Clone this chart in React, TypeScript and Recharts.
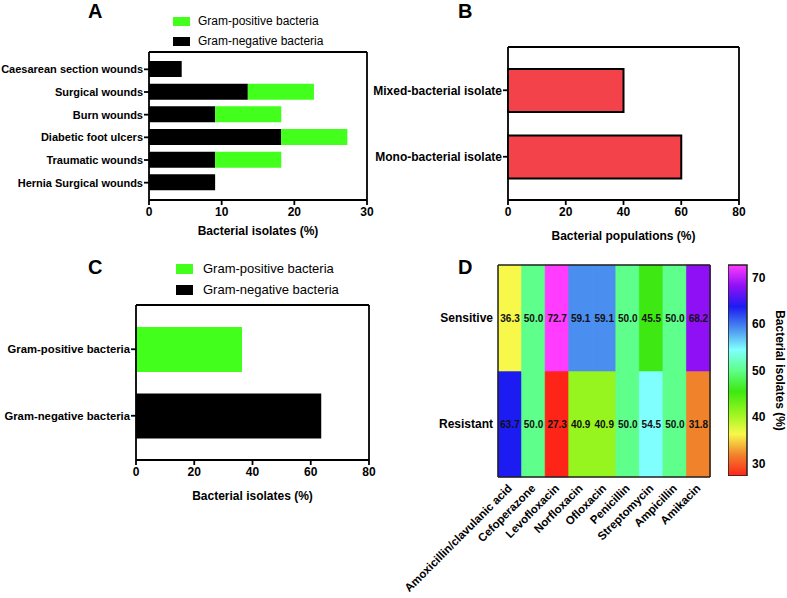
import React from 'react';
import { BarChart, Bar, XAxis, YAxis, Cell, LabelList, Legend, Label } from 'recharts';

// Panel A: wound types (top to bottom)
const WOUND_TYPES = [
  'Caesarean section wounds',
  'Surgical wounds',
  'Burn wounds',
  'Diabetic foot ulcers',
  'Traumatic wounds',
  'Hernia Surgical wounds',
];
const WOUND_NEGATIVE = [4.5, 13.6, 9.1, 18.2, 9.1, 9.1];
const WOUND_POSITIVE = [0, 9.1, 9.1, 9.1, 9.1, 0];
const A_TICKS = [0, 10, 20, 30];

// Panel B
const ISOLATE_TYPES = ['Mixed-bacterial isolate', 'Mono-bacterial isolate'];
const ISOLATE_SHARE = [40, 60];

// Panel C
const GRAM_TYPES = ['Gram-positive bacteria', 'Gram-negative bacteria'];
const GRAM_SHARE = [36.4, 63.6];
const BC_TICKS = [0, 20, 40, 60, 80];

// Panel D heatmap
const ANTIBIOTICS = [
  'Amoxicillin/clavulanic acid',
  'Cefoperazone',
  'Levofloxacin',
  'Norfloxacin',
  'Ofloxacin',
  'Penicillin',
  'Streptomycin',
  'Ampicillin',
  'Amikacin',
];
const SENSITIVE = [36.3, 50.0, 72.7, 59.1, 59.1, 50.0, 45.5, 50.0, 68.2];
const RESISTANT = [63.7, 50.0, 27.3, 40.9, 40.9, 50.0, 54.5, 50.0, 31.8];
const ROW_LABELS = ['Sensitive', 'Resistant'];
const CB_TICKS = [30, 40, 50, 60, 70];

const GREEN = '#42ff1c';
const RED = '#f4424a';

// colour scale used by the heatmap and its colour bar
const COLOR_STOPS: [number, string][] = [
  [27.3, '#ff2418'],
  [31.8, '#f0822c'],
  [36.3, '#f8f84a'],
  [40.9, '#96f51e'],
  [45.5, '#3ee812'],
  [50.0, '#5eff8a'],
  [54.5, '#80ffff'],
  [59.1, '#4a8ef0'],
  [63.7, '#1c1cf2'],
  [68.2, '#9010f5'],
  [72.7, '#ff3cff'],
];

const hexToRgb = (h: string) => [1, 3, 5].map((i) => parseInt(h.slice(i, i + 2), 16));

function colorFor(v: number) {
  const stops = COLOR_STOPS;
  if (v <= stops[0][0]) return stops[0][1];
  for (let i = 1; i < stops.length; i++) {
    if (v <= stops[i][0]) {
      const [v0, c0] = stops[i - 1];
      const [v1, c1] = stops[i];
      const t = (v - v0) / (v1 - v0);
      const a = hexToRgb(c0);
      const b = hexToRgb(c1);
      const rgb = a.map((x, k) => Math.round(x + (b[k] - x) * t));
      return `rgb(${rgb.join(',')})`;
    }
  }
  return stops[stops.length - 1][1];
}

const woundData = WOUND_TYPES.map((name, i) => ({
  name,
  negative: WOUND_NEGATIVE[i],
  positive: WOUND_POSITIVE[i],
}));
const isolateData = ISOLATE_TYPES.map((name, i) => ({ name, value: ISOLATE_SHARE[i] }));
const gramData = GRAM_TYPES.map((name, i) => ({
  name,
  positive: i === 0 ? GRAM_SHARE[i] : undefined,
  negative: i === 1 ? GRAM_SHARE[i] : undefined,
}));
const heatData = ANTIBIOTICS.map((name, i) => ({
  name,
  sensitive: SENSITIVE[i],
  resistant: RESISTANT[i],
}));
const allValues = [...SENSITIVE, ...RESISTANT];
const CB_MIN = Math.min(...allValues);
const CB_MAX = Math.max(...allValues);
const scaleData = [{ name: 'scale', range: [CB_MIN, CB_MAX] }];

const AX = { stroke: '#000', strokeWidth: 1.8 };
const numTick = { fill: '#000', fontSize: 12, fontWeight: 'bold' };
const titleStyle = { fill: '#000', fontSize: 12, fontWeight: 'bold' };

// single-line category label (no wrapping)
const CatTick = (props: any) => {
  const { x, y, payload, fontSize, tickFormatter } = props;
  const text = tickFormatter ? tickFormatter(payload.value) : payload.value;
  return (
    <text x={x} y={y} dy="0.36em" textAnchor="end" fontSize={fontSize} fontWeight="bold" fill="#000">
      {text}
    </text>
  );
};

const SwatchLegend = ({ payload, fontSize, rowH, swH, gap }: any) => {
  const items = [...(payload || [])].reverse();
  return (
    <div style={{ fontSize, color: '#000' }}>
      {items.map((p: any) => (
        <div key={p.value} style={{ display: 'flex', alignItems: 'center', height: rowH }}>
          <span style={{ display: 'inline-block', width: 17, height: swH, background: p.color, marginRight: gap }} />
          {p.value}
        </div>
      ))}
    </div>
  );
};

const AngledTick = (props: any) => {
  const { x, y, payload } = props;
  const ax = x + 3;
  const ay = y + 12;
  return (
    <text x={ax} y={ay} transform={`rotate(-45, ${ax}, ${ay})`} textAnchor="end" fontSize={11.5} fontWeight="bold" fill="#000">
      {payload.value}
    </text>
  );
};

const letter = (ch: string, left: number, top: number) => (
  <div style={{ position: 'absolute', left, top, fontSize: 20, fontWeight: 'bold', lineHeight: 'normal' }}>{ch}</div>
);

export default function App() {
  return (
    <div
      style={{
        position: 'absolute',
        left: 0,
        top: 0,
        width: 787,
        height: 598,
        overflow: 'hidden',
        background: '#fff',
        fontFamily: '"Liberation Sans", Arial, sans-serif',
      }}
    >
      {letter('A', 88, 0)}
      {letter('B', 458, 0)}
      {letter('C', 88, 256)}
      {letter('D', 458, 256)}

      {/* A */}
      <div style={{ position: 'absolute', left: 0, top: 0 }}>
        <BarChart width={390} height={240} layout="vertical" data={woundData} margin={{ top: 51, right: 22, bottom: 0, left: 0 }}>
          <XAxis type="number" domain={[0, 30]} ticks={A_TICKS} axisLine={AX} tickLine={AX} tickSize={5} tickMargin={2} tick={numTick} height={40}>
            <Label value="Bacterial isolates (%)" position="insideBottom" offset={5} style={titleStyle} />
          </XAxis>
          <XAxis xAxisId="top" orientation="top" type="number" domain={[0, 30]} height={1} tick={false} tickLine={false} axisLine={AX} />
          <YAxis type="category" dataKey="name" width={149} axisLine={AX} tickLine={AX} tickSize={5} tickMargin={1} padding={{ top: 6, bottom: 6 }} tick={<CatTick fontSize={11} />} interval={0} />
          <YAxis yAxisId="right" orientation="right" type="category" dataKey="name" width={1} tick={false} tickLine={false} axisLine={AX} />
          <Legend layout="vertical" align="center" verticalAlign="middle" wrapperStyle={{ top: 11, left: 173, width: 220 }} content={(p: any) => <SwatchLegend {...p} fontSize={12} rowH={20} swH={9} gap={8} />} />
          <Bar dataKey="negative" name="Gram-negative bacteria" stackId="s" fill="#000" barSize={16} isAnimationActive={false} />
          <Bar dataKey="positive" name="Gram-positive bacteria" stackId="s" fill={GREEN} barSize={16} isAnimationActive={false} />
        </BarChart>
      </div>

      {/* B */}
      <div style={{ position: 'absolute', left: 360, top: 0 }}>
        <BarChart width={427} height={245} layout="vertical" data={isolateData} margin={{ top: 46, right: 47, bottom: 0, left: 0 }}>
          <XAxis type="number" domain={[0, 80]} ticks={BC_TICKS} axisLine={AX} tickLine={AX} tickSize={5} tickMargin={2} tick={numTick} height={45}>
            <Label value="Bacterial populations (%)" position="insideBottom" offset={5} style={titleStyle} />
          </XAxis>
          <XAxis xAxisId="top" orientation="top" type="number" domain={[0, 80]} height={1} tick={false} tickLine={false} axisLine={AX} />
          <YAxis type="category" dataKey="name" width={148} axisLine={AX} tickLine={AX} tickSize={5} tickMargin={1} padding={{ top: 10, bottom: 10 }} tick={<CatTick fontSize={12} />} interval={0} />
          <YAxis yAxisId="right" orientation="right" type="category" dataKey="name" width={1} tick={false} tickLine={false} axisLine={AX} />
          <Bar dataKey="value" fill={RED} stroke="#000" strokeWidth={2} barSize={43} isAnimationActive={false} />
        </BarChart>
      </div>

      {/* C */}
      <div style={{ position: 'absolute', left: 0, top: 250 }}>
        <BarChart width={390} height={254} layout="vertical" data={gramData} margin={{ top: 54, right: 20, bottom: 0, left: 0 }}>
          <XAxis type="number" domain={[0, 80]} ticks={BC_TICKS} axisLine={AX} tickLine={AX} tickSize={5} tickMargin={2} tick={numTick} height={44}>
            <Label value="Bacterial isolates (%)" position="insideBottom" offset={4} style={titleStyle} />
          </XAxis>
          <XAxis xAxisId="top" orientation="top" type="number" domain={[0, 80]} height={1} tick={false} tickLine={false} axisLine={AX} />
          <YAxis type="category" dataKey="name" width={136} axisLine={AX} tickLine={AX} tickSize={5} tickMargin={1} padding={{ top: 11, bottom: 11 }} tick={<CatTick fontSize={11.3} />} interval={0} />
          <YAxis yAxisId="right" orientation="right" type="category" dataKey="name" width={1} tick={false} tickLine={false} axisLine={AX} />
          <Legend layout="vertical" align="center" verticalAlign="middle" wrapperStyle={{ top: 8, left: 176, width: 220 }} content={(p: any) => <SwatchLegend {...p} fontSize={13} rowH={21} swH={10} gap={10} />} />
          <Bar dataKey="negative" name="Gram-negative bacteria" stackId="g" fill="#000" barSize={45} isAnimationActive={false} />
          <Bar dataKey="positive" name="Gram-positive bacteria" stackId="g" fill={GREEN} barSize={45} isAnimationActive={false} />
        </BarChart>
      </div>

      {/* D heatmap */}
      <div style={{ position: 'absolute', left: 390, top: 230 }}>
        <BarChart width={321} height={368} data={heatData} margin={{ top: 34, right: 0, bottom: 0, left: 0 }} barCategoryGap={0} barGap={0}>
          <XAxis dataKey="name" type="category" interval={0} height={121} axisLine={{ stroke: '#222', strokeWidth: 1.5 }} tickLine={false} tickSize={0} tickMargin={0} tick={<AngledTick />} />
          <XAxis xAxisId="top" orientation="top" dataKey="name" type="category" height={1} tick={false} tickLine={false} axisLine={{ stroke: '#222', strokeWidth: 1.5 }} />
          <YAxis
            type="number"
            domain={[0, ROW_LABELS.length]}
            ticks={[0.5, 1.5]}
            tickFormatter={(v: number) => ROW_LABELS[ROW_LABELS.length - 1 - Math.floor(v)]}
            width={108}
            axisLine={{ stroke: '#222', strokeWidth: 1.5 }}
            tickLine={false}
            tickSize={3}
            tickMargin={2}
            tick={<CatTick fontSize={12} />}
          />
          <YAxis yAxisId="right" orientation="right" type="number" domain={[0, ROW_LABELS.length]} width={1} tick={false} tickLine={false} axisLine={{ stroke: '#222', strokeWidth: 1.5 }} />
          <Bar dataKey={() => 1} stackId="h" isAnimationActive={false}>
            {heatData.map((d, i) => (
              <Cell key={`r${i}`} fill={colorFor(d.resistant)} stroke={colorFor(d.resistant)} strokeWidth={0.6} />
            ))}
            <LabelList dataKey="resistant" position="center" formatter={(v: any) => Number(v).toFixed(1)} fill="#111" fontSize={10} fontWeight="bold" />
          </Bar>
          <Bar dataKey={() => 1} stackId="h" isAnimationActive={false}>
            {heatData.map((d, i) => (
              <Cell key={`s${i}`} fill={colorFor(d.sensitive)} stroke={colorFor(d.sensitive)} strokeWidth={0.6} />
            ))}
            <LabelList dataKey="sensitive" position="center" formatter={(v: any) => Number(v).toFixed(1)} fill="#111" fontSize={10} fontWeight="bold" />
          </Bar>
        </BarChart>
      </div>

      {/* D colour bar */}
      <div style={{ position: 'absolute', left: 728, top: 230 }}>
        <BarChart width={85} height={246} data={scaleData} margin={{ top: 35, right: 0, bottom: 0, left: 0 }} barCategoryGap={0}>
          <defs>
            <linearGradient id="cbGrad" x1="0" y1="0" x2="0" y2="1">
              {[...COLOR_STOPS].reverse().map(([v, c]) => (
                <stop key={v} offset={(CB_MAX - v) / (CB_MAX - CB_MIN)} stopColor={c} />
              ))}
            </linearGradient>
          </defs>
          <XAxis dataKey="name" hide />
          <YAxis orientation="right" type="number" domain={[CB_MIN, CB_MAX]} ticks={CB_TICKS} width={66} axisLine={false} tickLine={false} tickSize={3} tickMargin={2} tick={numTick}>
            <Label value="Bacterial isolates (%)" angle={90} position="center" style={titleStyle} />
          </YAxis>
          <YAxis yAxisId="lt" orientation="left" mirror type="number" domain={[CB_MIN, CB_MAX]} ticks={CB_TICKS} tick={false} tickSize={4} axisLine={false} tickLine={{ stroke: '#222', strokeWidth: 1.5 }} />
          <Bar dataKey="range" fill="url(#cbGrad)" stroke="#222" strokeWidth={1.5} isAnimationActive={false} />
        </BarChart>
      </div>
    </div>
  );
}
